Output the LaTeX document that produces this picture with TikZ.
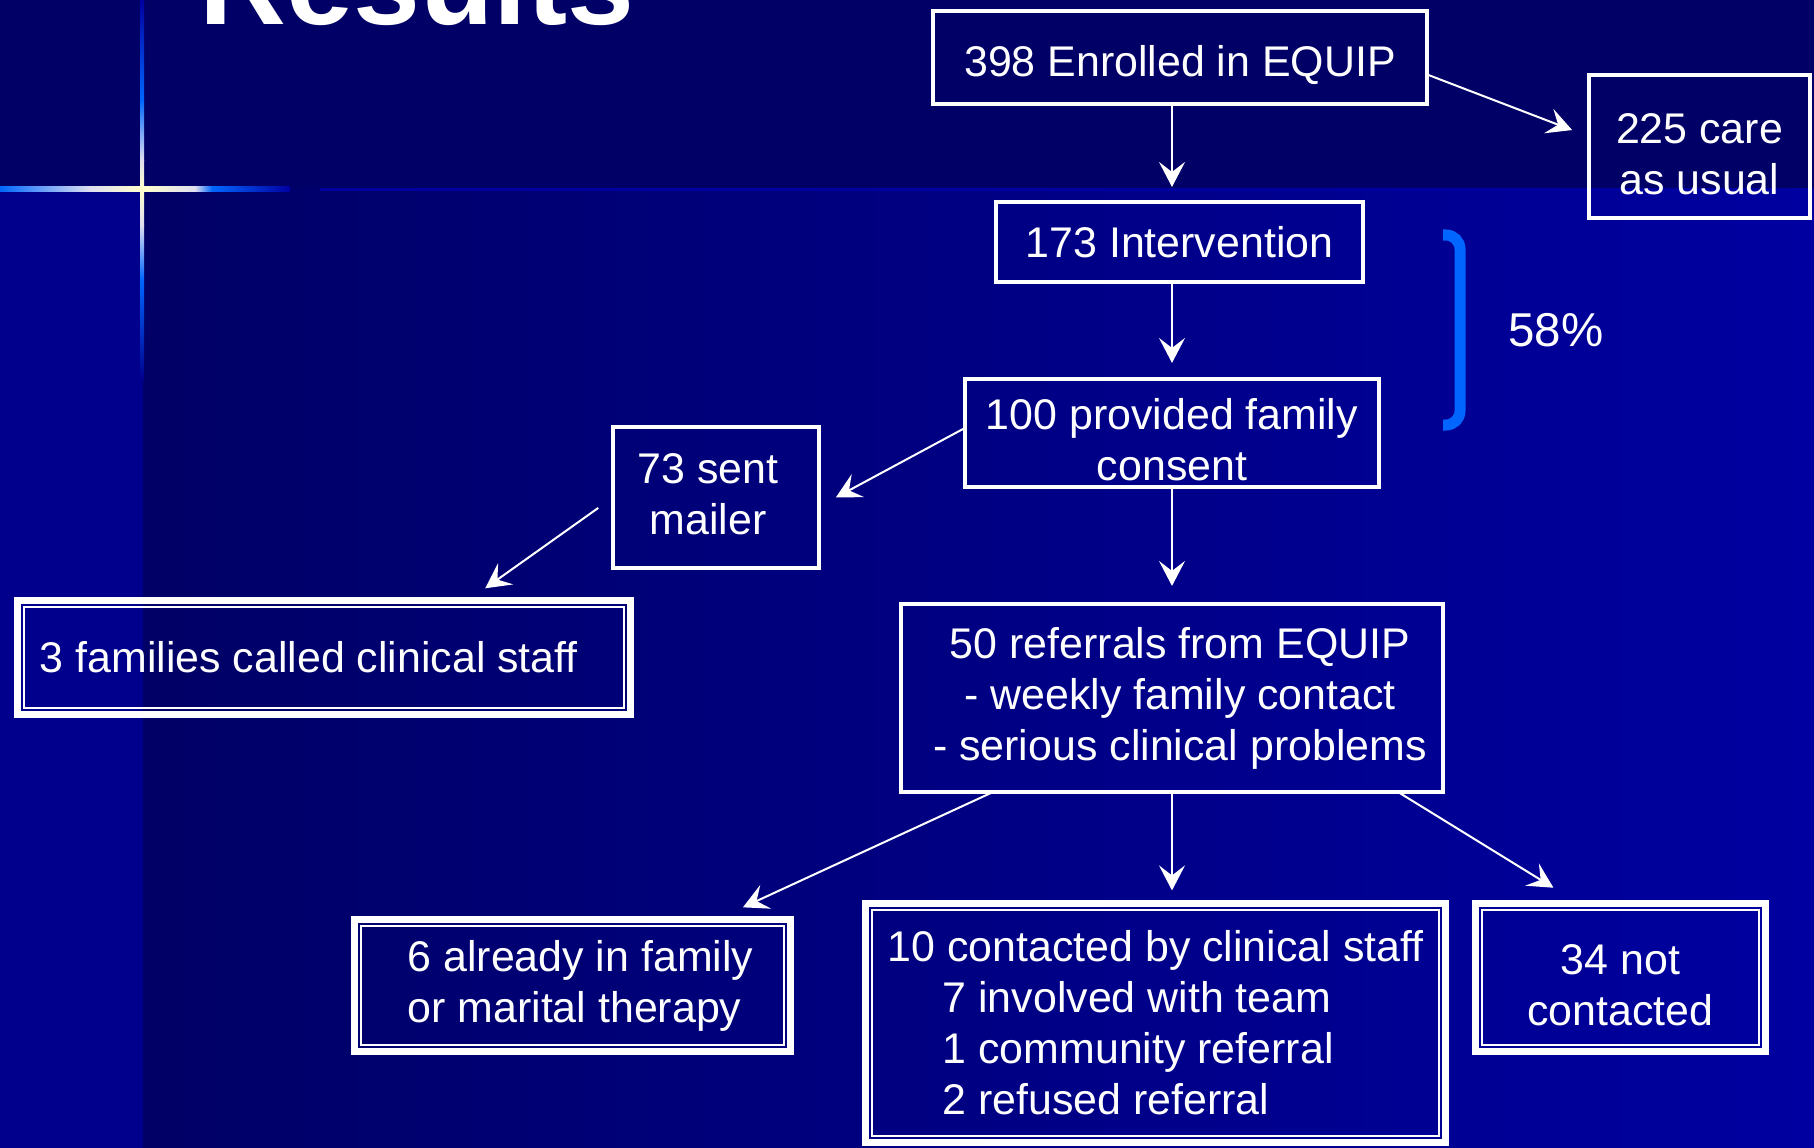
\documentclass[tikz,border=0pt]{standalone}
\usepackage{fontspec}
\setmainfont{Liberation Sans}
\usepackage{tikz}
\usetikzlibrary{calc}
\usetikzlibrary{arrows.meta}
\definecolor{qqqqtt}{rgb}{0.,0.,0.4}
\definecolor{qqqqcc}{rgb}{0.,0.,0.55}
\definecolor{qqqqdd}{rgb}{0.,0.,0.63}
\definecolor{qqttff}{rgb}{0.,0.4,1.}
\definecolor{ffffcc}{rgb}{1.,1.,0.8}
\definecolor{ddddff}{rgb}{0.87,0.87,0.94}
\newcommand{\flowfont}{\fontsize{12.2pt}{14.5pt}\selectfont}
\newcommand{\boxstrut}{\rule{0pt}{12.9pt}}
\tikzset{
  box/.style={draw=white,line width=0.04cm,text=white,font=\flowfont,align=center,inner sep=0pt,outer sep=0pt},
  dblbox/.style={box,line width=0.07cm},
  inframe/.style={draw=white,line width=0.02cm},
  link/.style={->,draw=white,line width=0.02cm}
}

\begin{document}
\begin{tikzpicture}[line cap=butt,line join=miter,>={Stealth[length=0.25cm,width=0.26cm,inset=0.1cm]},x=0.01cm,y=0.01cm]
\clip(0,0) rectangle (1814,1147);
% background
\fill[qqqqtt] (-10,959) rectangle (1824,1157);
\fill[qqqqcc] (-10,-10) rectangle (143,959);
\shade[left color=qqqqtt,right color=qqqqdd] (143,-10) rectangle (1824,959);
% flare
\fill[qqqqdd] (320,956.5) rectangle (1814,959.5);
\shade[left color=qqttff,right color=ddddff] (0,955.5) rectangle (90,960.5);
\shade[left color=ddddff,right color=ffffcc] (90,955.5) rectangle (142,960.5);
\shade[left color=ffffcc,right color=ddddff] (142,955.5) rectangle (195,960.5);
\shade[left color=ddddff,right color=qqttff] (195,955.5) rectangle (212,960.5);
\shade[left color=qqttff,right color=qqqqdd] (212,955.5) rectangle (290,960.5);
\shade[top color=qqqqdd,bottom color=qqttff] (140,1047) rectangle (144,1147);
\shade[top color=qqttff,bottom color=ddddff] (140,987) rectangle (144,1047);
\shade[top color=ddddff,bottom color=ffffcc] (140,958) rectangle (144,987);
\shade[top color=ffffcc,bottom color=ddddff] (140,922) rectangle (144,958);
\shade[top color=ddddff,bottom color=qqttff] (140,867) rectangle (144,922);
\shade[top color=qqttff,bottom color=qqqqcc] (140,767) rectangle (144,867);
% title
\node[anchor=base west,inner sep=0pt,text=white,font=\fontsize{34.2pt}{40pt}\selectfont\bfseries] (title) at (199,1123) {Results};
% boxes
\node[box,minimum width=4.94cm,minimum height=0.93cm] (n398) at (1180,1089.5) {\boxstrut398 Enrolled in EQUIP};
\node[box,minimum width=2.21cm,minimum height=1.43cm] (n225) at (1699.5,1000.5) {\boxstrut225 care\\as usual};
\node[box,minimum width=3.67cm,minimum height=0.80cm] (n173) at (1179.5,905) {173 Intervention};
\node[box,minimum width=4.14cm,minimum height=1.08cm] (n100) at (1172,714) {\boxstrut100 provided family\\consent};
\node[box,minimum width=2.06cm,minimum height=1.41cm] (n73) at (716,649.5) {73 sent\hspace*{0.16cm}\\mailer\hspace*{0.16cm}\rule[-2pt]{0pt}{2pt}};
\node[box,minimum width=5.42cm,minimum height=1.88cm] (n50) at (1172,449) {\hspace*{0.16cm}50 referrals from EQUIP\\\hspace*{0.16cm}- weekly family contact\\\hspace*{0.16cm}- serious clinical problems};
\node[dblbox,minimum width=6.13cm,minimum height=1.14cm,align=flush left,text width=5.68cm] (n3) at (324,489.5) {3 families called clinical staff};
\node[dblbox,minimum width=4.36cm,minimum height=1.32cm,align=flush left] (n6) at (572.5,161.5) {\hspace*{0.16cm}6 already in family\\\hspace*{0.16cm}or marital therapy};
\node[dblbox,minimum width=5.80cm,minimum height=2.39cm,align=flush left] (n10) at (1155.5,124) {10 contacted by clinical staff\\\hspace*{0.55cm}7 involved with team\\\hspace*{0.55cm}1 community referral\\\hspace*{0.55cm}2 refused referral};
\node[dblbox,minimum width=2.90cm,minimum height=1.48cm] (n34) at (1620.5,169.5) {\boxstrut34 not\\contacted};
\foreach \b in {n3,n6,n10,n34}
  \draw[inframe] ([shift={(0.065cm,-0.065cm)}]\b.north west) rectangle ([shift={(-0.065cm,0.065cm)}]\b.south east);
% bracket and share
\draw[qqttff,line width=0.11cm,rounded corners=0.14cm] (1443,912) -- (1460,912) -- (1460,722) -- (1443,722);
\node[text=white,font=\fontsize{13.5pt}{16pt}\selectfont] (pct) at (1556,817) {58\%};
% arrows
\draw[link,shorten >=0.15cm] (n398.south -| n100) -- (n173.north -| n100);
\draw[link,shorten >=0.18cm] ([yshift=-0.17cm]n398.east) -- ([yshift=0.1cm]n225.west);
\draw[link,shorten >=0.16cm] (n173.south -| n100) -- (n100.north);
\draw[link,shorten >=0.18cm] (n100.south) -- (n50.north);
\draw[link,shorten >=0.19cm] ([yshift=0.05cm]n100.west) -- ([yshift=-0.09cm]n73.east);
\draw[link,shorten <=0.18cm,shorten >=0.21cm] (n73.west) -- ([xshift=1.44cm]n3.north);
\draw[link,shorten >=0.29cm] ([xshift=-1.79cm]n50.south) -- ([xshift=1.44cm]n6.north);
\draw[link,shorten >=0.13cm] (n50.south) -- (n10.north -| n50.south);
\draw[link,shorten >=0.30cm] ([xshift=2.26cm]n50.south) -- ([xshift=-0.415cm]n34.north);
\end{tikzpicture}
\end{document}
